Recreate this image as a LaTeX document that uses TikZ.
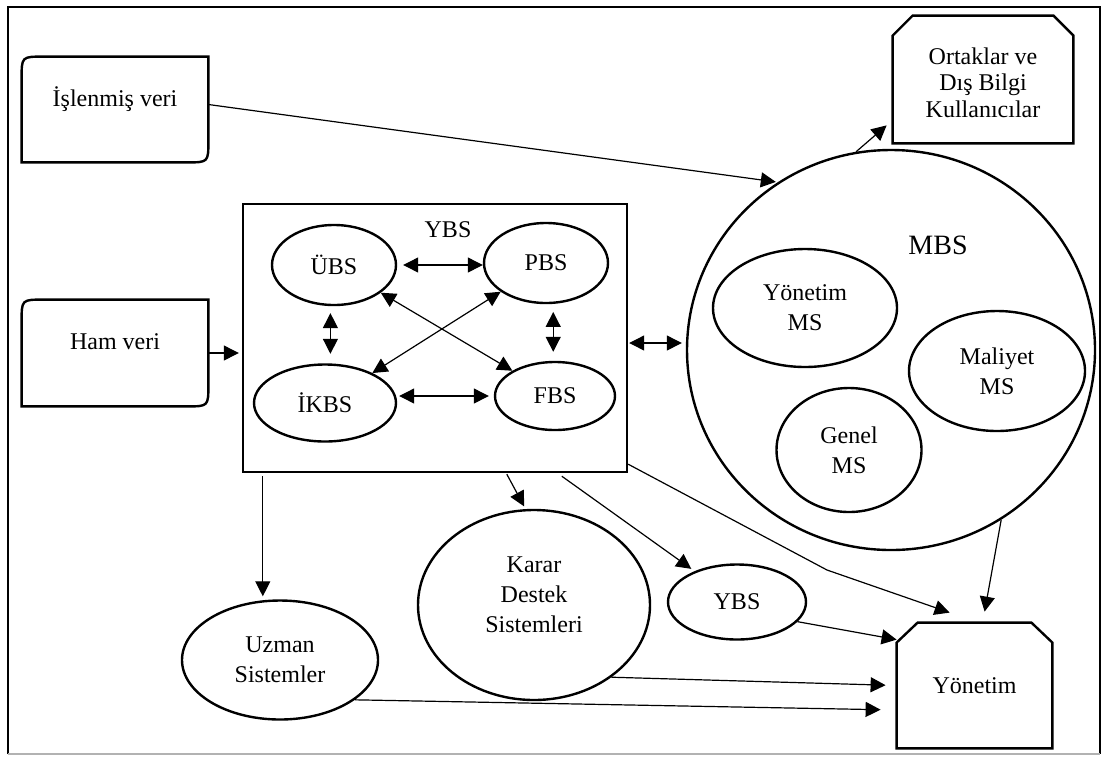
\documentclass[tikz,border=0pt]{standalone}
\usepackage{fontspec}
\setmainfont{Liberation Serif}
\usetikzlibrary{shapes.geometric,arrows.meta,calc}
\begin{document}
\begin{tikzpicture}[x=0.5pt,y=-0.5pt,
  shapeline/.style={line width=1.2pt},
  oval/.style={ellipse, draw, line width=1.2pt, inner sep=0pt, align=center, font=\fontsize{12}{15}\selectfont},
  holder/.style={rectangle, draw=none, inner sep=0pt},
  txt/.style={align=center, font=\fontsize{12}{15}\selectfont, inner sep=0pt},
  conn/.style={line width=0.6pt, -{Triangle[length=7.5pt,width=7.5pt]}},
  dconn/.style={line width=0.6pt, {Triangle[length=7.5pt,width=7.5pt]}-{Triangle[length=7.5pt,width=7.5pt]}},
]
\useasboundingbox (0,0) rectangle (1107,756);
% outer frame
\draw[line width=1pt] (8,754) -- (8,7) -- (1100,7) -- (1100,754);
\draw[gray!60, line width=0.6pt] (8,754) -- (1100,754);

% input boxes
\node[holder, minimum width=93pt, minimum height=52.5pt] (isl) at (115,109.5) {};
\draw[shapeline] (isl.north east) -- ($(isl.south east)+(0,-22)$) .. controls (isl.south east) .. ($(isl.south east)+(-22,0)$) -- (isl.south west) -- ($(isl.north west)+(0,22)$) .. controls (isl.north west) .. ($(isl.north west)+(22,0)$) -- cycle;
\node[txt] (islt) at ($(isl)+(0,-10)$) {İşlenmiş veri};

\node[holder, minimum width=93pt, minimum height=53pt] (ham) at (115,353) {};
\draw[shapeline] (ham.north east) -- ($(ham.south east)+(0,-22)$) .. controls (ham.south east) .. ($(ham.south east)+(-22,0)$) -- (ham.south west) -- ($(ham.north west)+(0,22)$) .. controls (ham.north west) .. ($(ham.north west)+(22,0)$) -- cycle;
\node[txt] (hamt) at ($(ham)+(0,-11)$) {Ham veri};

% Ortaklar box
\node[holder, minimum width=90pt, minimum height=63.5pt] (ort) at (983,79.5) {};
\draw[shapeline] (ort.south west) -- ($(ort.north west)+(0,20)$) -- ($(ort.north west)+(20,0)$) -- ($(ort.north east)+(-20,0)$) -- ($(ort.north east)+(0,20)$) -- (ort.south east) -- cycle;
\node[txt, font=\fontsize{12}{13.3}\selectfont] (ortt) at ($(ort)+(0,3)$) {Ortaklar ve\\Dış Bilgi\\Kullanıcılar};

% Yonetim box
\node[holder, minimum width=77.5pt, minimum height=62.5pt] (yon) at (974.5,685.5) {};
\draw[shapeline] (yon.south west) -- ($(yon.north west)+(0,20)$) -- ($(yon.north west)+(21,0)$) -- ($(yon.north east)+(-21,0)$) -- ($(yon.north east)+(0,20)$) -- (yon.south east) -- cycle;
\node[txt] (yont) at (yon) {Yönetim};

% YBS box
\node[draw, shapeline, minimum width=192pt, minimum height=134pt, inner sep=0pt] (ybsbox) at (435,338) {};
\node[txt] (ybst) at (448,230) {YBS};
\node[oval, minimum width=62pt, minimum height=40pt] (ubs) at (334,265) {ÜBS};
\node[oval, minimum width=62pt, minimum height=40pt] (pbs) at (546,263) {PBS};
\node[oval, minimum width=71pt, minimum height=38.5pt] (ikbs) at (325,403) {İKBS};
\node[oval, minimum width=60pt, minimum height=34pt] (fbs) at (555,396) {FBS};

% MBS
\node[oval, minimum width=204pt, minimum height=200pt] (mbs) at (891,350) {};
\node[txt, font=\fontsize{14}{17}\selectfont] (mbst) at (938,245) {MBS};
\node[oval, minimum width=92pt, minimum height=59pt] (yms) at (805,308) {Yönetim\\MS};
\node[oval, minimum width=88pt, minimum height=60pt] (mms) at (997,371) {Maliyet\\MS};
\node[oval, minimum width=72.5pt, minimum height=62pt] (gms) at (849,450) {Genel\\MS};

% lower systems
\node[oval, minimum width=69pt, minimum height=37.5pt] (ybs2) at (737,602) {YBS};
\node[oval, minimum width=116pt, minimum height=95pt] (karar) at (534,605) {};
\node[txt] (karart) at ($(karar)+(0,-10)$) {Karar\\Destek\\Sistemleri};
\node[oval, minimum width=98pt, minimum height=59.5pt] (uzman) at (280,660) {Uzman\\Sistemler};

% connectors
\draw[conn, shorten >=1pt] ($(isl.east)+(0,-5)$) -- (mbs.124);
\draw[conn, shorten >=1.5pt] (ham.east) -- (ham.east -| ybsbox.west);
\coordinate (ymb) at ($(ybsbox.east)+(0,5)$);
\draw[dconn, shorten <=0.5pt, shorten >=2pt] (ymb) -- (ymb -| mbs.west);
\draw[conn] (mbs.100) -- ($(ort.south west)+(-6,-18)$);

\draw[dconn, shorten <=3pt] (ubs.east) -- (ubs.east -| pbs.west);
\draw[dconn, shorten <=3.5pt, shorten >=4.75pt] (ubs.-95) -- (ubs.-95 |- ikbs.north);
\draw[dconn, shorten <=4pt, shorten >=4.5pt] (pbs.-80) -- (pbs.-80 |- fbs.north);
\draw[dconn, shorten <=1pt, shorten >=2.5pt] (fbs.west -| ikbs.east) -- (fbs.west);
\draw[dconn] (ubs) -- (fbs);
\draw[dconn] (pbs) -- (ikbs);

\coordinate (uzs) at ($(ybsbox.south west)+(21,3)$);
\draw[conn, shorten >=1.5pt] (uzs) -- (uzs |- uzman.north);
\coordinate (kds) at ($(ybsbox.south west)+(265,1)$);
\draw[conn, shorten >=1.5pt] (kds) -- (karar.95);
\coordinate (ybss) at ($(ybsbox.south west)+(320,3)$);
\draw[conn, shorten >=2pt] (ybss) -- (ybs2.144);
\coordinate (bend) at (827,570);
\draw[conn] ($(ybsbox.south east)+(0,-9)$) -- (bend) -- ($(yon.north west)+(53,-10)$);
\draw[conn] (mbs.-57) -- ($(yon.north west)+(88,-11)$);
\draw[conn] (ybs2.-18) -- ($(yon.north west)+(0,17)$);
\draw[conn, shorten >=5.5pt] (karar.-43.5) -- (yon.west);
\draw[conn, shorten >=8pt] (uzman.-28.7) -- ($(yon.west)+(0,24.5)$);
\end{tikzpicture}
\end{document}
